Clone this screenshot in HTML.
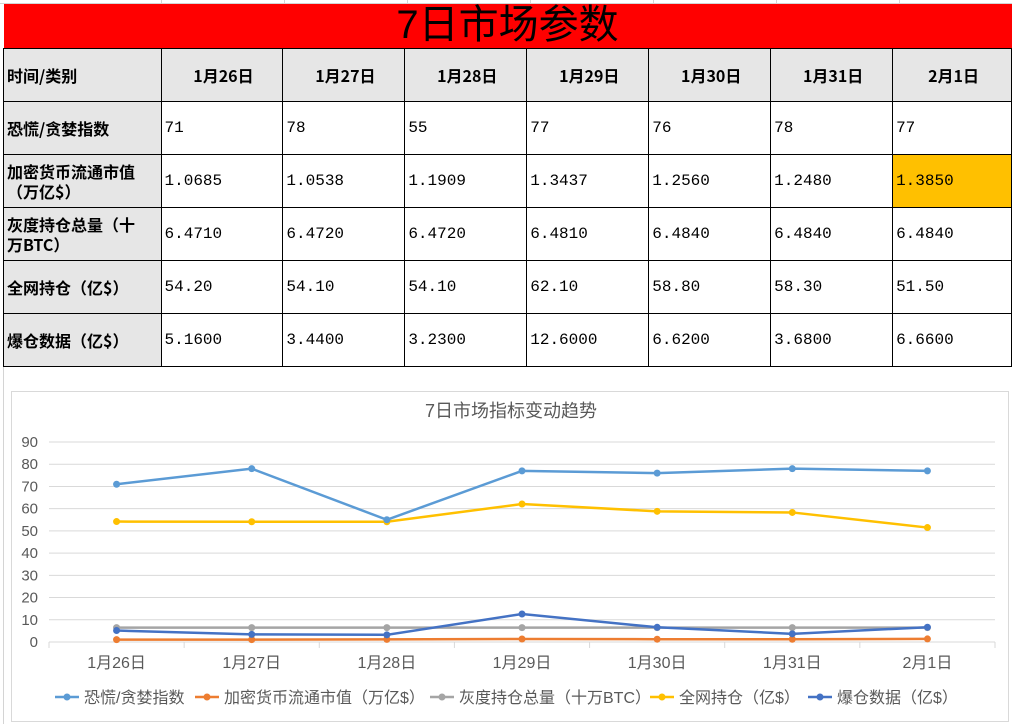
<!DOCTYPE html>
<html><head><meta charset="utf-8"><style>
body{margin:0;width:1012px;height:724px;background:#fff;position:relative;overflow:hidden;font-family:"Liberation Sans","Noto Sans CJK SC",sans-serif}
.grid{position:absolute;left:0;top:0;width:1012px;height:724px}
table{position:absolute;left:3px;top:4px;border-collapse:collapse;table-layout:fixed}
td{border:1.5px solid #000;padding:0 0 0 3px;font-size:16px;color:#000;font-family:"Liberation Mono","Noto Sans CJK SC",monospace;overflow:hidden;white-space:nowrap}
td.h{background:#e6e6e6;font-weight:bold;font-family:"Noto Sans CJK SC",sans-serif;font-size:16px;line-height:20px}
td.c{text-align:center}
#title{background:#f00;text-align:center;font-size:40px;font-family:"Liberation Sans","Noto Sans CJK SC",sans-serif;height:43px;line-height:43px;padding:0;border:none}
#chart{position:absolute;left:11px;top:391px;width:996px;height:329px;border:1px solid #d9d9d9;background:#fff}
</style></head><body>
<svg class="grid">
<g stroke="#d4d4d4" stroke-width="1">
<line x1="0" y1="3.5" x2="1012" y2="3.5"/>
<line x1="161.5" y1="0" x2="161.5" y2="4"/><line x1="284.5" y1="0" x2="284.5" y2="4"/><line x1="407.5" y1="0" x2="407.5" y2="4"/><line x1="530.5" y1="0" x2="530.5" y2="4"/><line x1="653.5" y1="0" x2="653.5" y2="4"/><line x1="776.5" y1="0" x2="776.5" y2="4"/><line x1="899.5" y1="0" x2="899.5" y2="4"/>
<line x1="3.5" y1="366" x2="3.5" y2="724"/>
</g></svg>
<table>
<colgroup><col style="width:158px"><col style="width:123px"><col style="width:123px"><col style="width:123px"><col style="width:123px"><col style="width:123px"><col style="width:123px"><col style="width:120px"></colgroup>
<tr style="height:44px"><td id="title" colspan="8">7日市场参数</td></tr>
<tr style="height:53px"><td class="h">时间/类别</td><td class="h c">1月26日</td><td class="h c">1月27日</td><td class="h c">1月28日</td><td class="h c">1月29日</td><td class="h c">1月30日</td><td class="h c">1月31日</td><td class="h c">2月1日</td></tr>
<tr style="height:53px"><td class="h">恐慌/贪婪指数</td><td>71</td><td>78</td><td>55</td><td>77</td><td>76</td><td>78</td><td>77</td></tr>
<tr style="height:53px"><td class="h">加密货币流通市值<br>（万亿$）</td><td>1.0685</td><td>1.0538</td><td>1.1909</td><td>1.3437</td><td>1.2560</td><td>1.2480</td><td style="background:#ffc000">1.3850</td></tr>
<tr style="height:53px"><td class="h">灰度持仓总量（十<br>万BTC）</td><td>6.4710</td><td>6.4720</td><td>6.4720</td><td>6.4810</td><td>6.4840</td><td>6.4840</td><td>6.4840</td></tr>
<tr style="height:53px"><td class="h">全网持仓（亿$）</td><td>54.20</td><td>54.10</td><td>54.10</td><td>62.10</td><td>58.80</td><td>58.30</td><td>51.50</td></tr>
<tr style="height:53px"><td class="h">爆仓数据（亿$）</td><td>5.1600</td><td>3.4400</td><td>3.2300</td><td>12.6000</td><td>6.6200</td><td>3.6800</td><td>6.6600</td></tr>
</table>
<div id="chart"></div>
<svg id="svg" style="position:absolute;left:0;top:0" width="1012" height="724"></svg>
<script>
const categories=["1月26日","1月27日","1月28日","1月29日","1月30日","1月31日","2月1日"];
const fearGreed=[71,78,55,77,76,78,77];
const marketCap=[1.0685,1.0538,1.1909,1.3437,1.2560,1.2480,1.3850];
const grayscale=[6.4710,6.4720,6.4720,6.4810,6.4840,6.4840,6.4840];
const openInterest=[54.2,54.1,54.1,62.1,58.8,58.3,51.5];
const liquidation=[5.16,3.44,3.23,12.6,6.62,3.68,6.66];
const yTicks=[0,10,20,30,40,50,60,70,80,90];
const seriesNames=["恐慌/贪婪指数","加密货币流通市值（万亿$）","灰度持仓总量（十万BTC）","全网持仓（亿$）","爆仓数据（亿$）"];
const seriesColors=["#5b9bd5","#ed7d31","#a5a5a5","#ffc000","#4472c4"];
const seriesData=[fearGreed,marketCap,grayscale,openInterest,liquidation];
const NS="http://www.w3.org/2000/svg";
const svg=document.getElementById('svg');
const L=49,R=995,T=442,B=642,yMax=90;
const step=(R-L)/categories.length;
const xS=i=>L+step*(i+0.5);
const yS=v=>B-(v/yMax)*(B-T);
function mk(tag,attrs,parent){const e=document.createElementNS(NS,tag);for(const k in attrs)e.setAttribute(k,attrs[k]);(parent||svg).appendChild(e);return e;}
const t=mk('text',{x:511,y:417,'text-anchor':'middle','font-size':'18','fill':'#595959','font-family':'"Liberation Sans","Noto Sans CJK SC",sans-serif'});
t.textContent="7日市场指标变动趋势";


yTicks.forEach(v=>{
  const g=mk('line',{x1:L,x2:R,y1:yS(v),y2:yS(v),stroke:'#d9d9d9','stroke-width':1});
  
  
  const lb=mk('text',{x:38,y:yS(v)+5,'text-anchor':'end','font-size':'15','fill':'#595959','font-family':'"Liberation Sans",sans-serif'});
  lb.textContent=v;
  
  
});
for(let i=0;i<=categories.length;i++){
  const tk=mk('line',{x1:L+step*i,x2:L+step*i,y1:B,y2:B+6,stroke:'#d9d9d9'});
  
  
}
categories.forEach((c,i)=>{
  const lb=mk('text',{x:xS(i),y:668,'text-anchor':'middle','font-size':'16','fill':'#595959','font-family':'"Liberation Sans","Noto Sans CJK SC",sans-serif'});
  lb.textContent=c;
  
  
});
const order=[2,1,4,3,0];
order.forEach(s=>{
  const d=seriesData[s];
  const pl=mk('polyline',{points:d.map((v,i)=>xS(i)+','+yS(v)).join(' '),fill:'none',stroke:seriesColors[s],'stroke-width':2.5});
  
  
  d.forEach((v,i)=>{
    const c=mk('circle',{cx:xS(i),cy:yS(v),r:3.5,fill:seriesColors[s]});
    
    
  });
});
const legX=[55,195,430,650,808];
seriesNames.forEach((n,s)=>{
  const x=legX[s],y=697;
  const ln=mk('line',{x1:x,x2:x+24,y1:y,y2:y,stroke:seriesColors[s],'stroke-width':2.5});
  
  
  const c=mk('circle',{cx:x+12,cy:y,r:3.5,fill:seriesColors[s]});
  
  
  const tx=mk('text',{x:x+29,y:y+6,'font-size':'16','fill':'#595959','font-family':'"Liberation Sans","Noto Sans CJK SC",sans-serif'});
  tx.textContent=n;
  
  
});
</script>
</body></html>
